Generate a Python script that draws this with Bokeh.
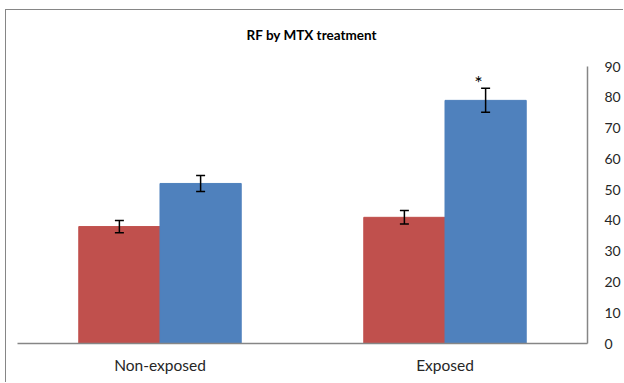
from bokeh.plotting import figure
from bokeh.models import FactorRange, ColumnDataSource, Whisker, TeeHead, Label, Range1d, FixedTicker
from bokeh.transform import dodge
from bokeh.core.properties import value
from bokeh.embed import file_html
from bokeh.resources import INLINE

# ---- data ----
categories = ["Non-exposed", "Exposed"]
series_a = [38, 41]          # red bars
series_a_err = [2.0, 2.2]
series_b = [52, 79]          # blue bars
series_b_err = [2.6, 3.9]
marks_b = ["", "*"]          # significance markers over blue bars
y_ticks = [0, 10, 20, 30, 40, 50, 60, 70, 80, 90]
title_text = "RF by MTX treatment"

RED = "#C0504D"
BLUE = "#4F81BD"
FONT = "Lato"

src = ColumnDataSource(dict(
    cat=categories,
    a=series_a,
    a_lo=[v - e for v, e in zip(series_a, series_a_err)],
    a_hi=[v + e for v, e in zip(series_a, series_a_err)],
    b=series_b,
    b_lo=[v - e for v, e in zip(series_b, series_b_err)],
    b_hi=[v + e for v, e in zip(series_b, series_b_err)],
    mark=marks_b,
))

Y_AXIS_MAX = 90
# frame extends above the axis to host the chart title
p = figure(x_range=FactorRange(*categories), y_range=Range1d(0, 108.2),
           width=618, height=373, output_backend="svg", toolbar_location=None,
           y_axis_location="right", min_border_left=11, min_border_right=37,
           min_border_top=0, min_border_bottom=40)
p.styles = {"border-left": "1px solid #868686", "border-top": "1px solid #868686",
            "margin-left": "5px", "margin-top": "9px"}

lbl = Label(x=1.033, y=100.4, text=title_text,
            text_font=FONT, text_font_size="13.5px", text_font_style="bold",
            text_color="#000000", text_align="center", text_baseline="middle")
p.add_layout(lbl)

W = 0.285
p.vbar(x=dodge("cat", -W / 2, range=p.x_range), top="a", width=W, bottom=0,
       source=src, fill_color=RED, line_color=RED)
p.vbar(x=dodge("cat", W / 2, range=p.x_range), top="b", width=W, bottom=0,
       source=src, fill_color=BLUE, line_color=BLUE)

for col, off in (("a", -W / 2), ("b", W / 2)):
    wk = Whisker(base=dodge("cat", off, range=p.x_range), lower=col + "_lo", upper=col + "_hi",
                 source=src, line_color="black", line_width=1.5, level="overlay",
                 upper_head=TeeHead(size=9, line_color="black", line_width=1.5),
                 lower_head=TeeHead(size=9, line_color="black", line_width=1.5))
    p.add_layout(wk)

p.text(x=dodge("cat", W / 2, range=p.x_range), y="b_hi", text="mark", source=src,
       text_font=value(FONT), text_font_size="20px", text_align="center",
       text_baseline="bottom", y_offset=6, x_offset=-7, text_color="black")

p.xgrid.visible = False
p.ygrid.visible = False
p.outline_line_color = None
p.background_fill_color = "white"
p.border_fill_color = "white"

ya = p.yaxis[0]
ya.bounds = (0, Y_AXIS_MAX)
ya.ticker = FixedTicker(ticks=y_ticks)
ya.axis_line_color = "#868686"
ya.axis_line_width = 1.5
ya.major_tick_line_color = None
ya.minor_tick_line_color = None
ya.major_label_standoff = 11
ya.major_label_text_font = FONT
ya.major_label_text_font_size = "14px"
ya.major_label_text_color = "#262626"

xa = p.xaxis[0]
xa.axis_line_color = "#868686"
xa.axis_line_width = 1.5
xa.major_tick_line_color = None
xa.minor_tick_line_color = None
xa.major_label_standoff = 6
xa.major_label_text_font = FONT
xa.major_label_text_font_size = "15.5px"
xa.major_label_text_color = "#262626"

open("out.html", "w").write(file_html(p, INLINE))
